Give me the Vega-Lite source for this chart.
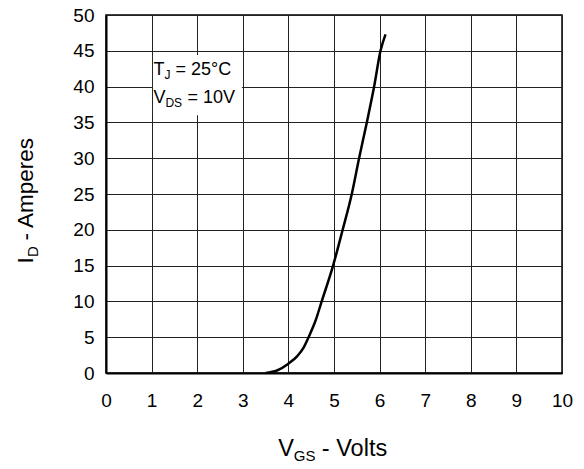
{
  "$schema": "https://vega.github.io/schema/vega-lite/v6.json",
  "width": 456,
  "height": 358,
  "autosize": {"type": "none"},
  "padding": {"left": 106, "top": 15, "right": 22, "bottom": 96},
  "background": "white",
  "config": {
    "view": {"stroke": "black", "strokeWidth": 1.5},
    "font": "Liberation Sans",
    "axis": {
      "labelFont": "Liberation Sans",
      "labelColor": "black",
      "labelFontSize": 19,
      "labelOverlap": false,
      "labelFlush": false,
      "ticks": false,
      "grid": true,
      "gridColor": "#222222",
      "gridWidth": 1,
      "gridOpacity": 1,
      "domainColor": "black",
      "domainWidth": 2,
      "title": null
    },
    "axisX": {"tickCount": 10, "labelPadding": 18},
    "axisY": {"tickCount": 10, "labelPadding": 12}
  },
  "layer": [
    {
      "data": {"values": [{}]},
      "mark": {"type": "rect", "fill": "white", "stroke": null},
      "encoding": {
        "x": {"datum": 1.03, "type": "quantitative", "scale": {"domain": [0, 10]}},
        "x2": {"datum": 2.98},
        "y": {"datum": 36.0, "type": "quantitative", "scale": {"domain": [0, 50]}},
        "y2": {"datum": 44.4}
      }
    },
    {
      "data": {"values": [
        {"vgs": 3.5, "id": 0},
        {"vgs": 3.75, "id": 0.35},
        {"vgs": 4.0, "id": 1.3},
        {"vgs": 4.2, "id": 2.4},
        {"vgs": 4.33, "id": 3.5},
        {"vgs": 4.45, "id": 5.1},
        {"vgs": 4.6, "id": 7.4},
        {"vgs": 4.73, "id": 10},
        {"vgs": 4.98, "id": 15},
        {"vgs": 5.19, "id": 20},
        {"vgs": 5.39, "id": 25},
        {"vgs": 5.55, "id": 30},
        {"vgs": 5.72, "id": 35},
        {"vgs": 5.88, "id": 40},
        {"vgs": 6.02, "id": 45},
        {"vgs": 6.13, "id": 47.3}
      ]},
      "mark": {"type": "line", "color": "black", "strokeWidth": 2.5, "interpolate": "monotone"},
      "encoding": {
        "x": {"field": "vgs", "type": "quantitative"},
        "y": {"field": "id", "type": "quantitative"}
      }
    },
    {
      "data": {"values": [{}]},
      "mark": {"type": "text", "text": "T", "fontSize": 18, "align": "left", "baseline": "alphabetic", "color": "black"},
      "encoding": {"x": {"datum": 1.04, "type": "quantitative"}, "y": {"datum": 41.6, "type": "quantitative"}}
    },
    {
      "data": {"values": [{}]},
      "mark": {"type": "text", "text": "J", "fontSize": 12, "align": "left", "baseline": "alphabetic", "dx": 11, "dy": 4, "color": "black"},
      "encoding": {"x": {"datum": 1.04, "type": "quantitative"}, "y": {"datum": 41.6, "type": "quantitative"}}
    },
    {
      "data": {"values": [{}]},
      "mark": {"type": "text", "text": "= 25°C", "fontSize": 18, "align": "left", "baseline": "alphabetic", "dx": 22, "color": "black"},
      "encoding": {"x": {"datum": 1.04, "type": "quantitative"}, "y": {"datum": 41.6, "type": "quantitative"}}
    },
    {
      "data": {"values": [{}]},
      "mark": {"type": "text", "text": "V", "fontSize": 18, "align": "left", "baseline": "alphabetic", "color": "black"},
      "encoding": {"x": {"datum": 1.04, "type": "quantitative"}, "y": {"datum": 37.7, "type": "quantitative"}}
    },
    {
      "data": {"values": [{}]},
      "mark": {"type": "text", "text": "DS", "fontSize": 12, "align": "left", "baseline": "alphabetic", "dx": 12, "dy": 4, "color": "black"},
      "encoding": {"x": {"datum": 1.04, "type": "quantitative"}, "y": {"datum": 37.7, "type": "quantitative"}}
    },
    {
      "data": {"values": [{}]},
      "mark": {"type": "text", "text": "= 10V", "fontSize": 18, "align": "left", "baseline": "alphabetic", "dx": 34, "color": "black"},
      "encoding": {"x": {"datum": 1.04, "type": "quantitative"}, "y": {"datum": 37.7, "type": "quantitative"}}
    },
    {
      "data": {"values": [{}]},
      "mark": {"type": "text", "text": "V", "fontSize": 23.5, "align": "left", "baseline": "alphabetic", "color": "black", "clip": false},
      "encoding": {"x": {"datum": 3.78, "type": "quantitative"}, "y": {"datum": -11.6, "type": "quantitative"}}
    },
    {
      "data": {"values": [{}]},
      "mark": {"type": "text", "text": "GS", "fontSize": 15, "align": "left", "baseline": "alphabetic", "dx": 15.5, "dy": 5, "color": "black", "clip": false},
      "encoding": {"x": {"datum": 3.78, "type": "quantitative"}, "y": {"datum": -11.6, "type": "quantitative"}}
    },
    {
      "data": {"values": [{}]},
      "mark": {"type": "text", "text": "- Volts", "fontSize": 23.5, "align": "left", "baseline": "alphabetic", "dx": 43.5, "color": "black", "clip": false},
      "encoding": {"x": {"datum": 3.78, "type": "quantitative"}, "y": {"datum": -11.6, "type": "quantitative"}}
    },
    {
      "data": {"values": [{}]},
      "mark": {"type": "text", "text": "I", "fontSize": 22.5, "align": "left", "baseline": "alphabetic", "angle": 270, "color": "black", "clip": false},
      "encoding": {"x": {"datum": -1.6, "type": "quantitative"}, "y": {"datum": 15.3, "type": "quantitative"}}
    },
    {
      "data": {"values": [{}]},
      "mark": {"type": "text", "text": "D", "fontSize": 15, "align": "left", "baseline": "alphabetic", "angle": 270, "dx": 6.5, "dy": 5, "color": "black", "clip": false},
      "encoding": {"x": {"datum": -1.6, "type": "quantitative"}, "y": {"datum": 15.3, "type": "quantitative"}}
    },
    {
      "data": {"values": [{}]},
      "mark": {"type": "text", "text": "- Amperes", "fontSize": 22.5, "align": "left", "baseline": "alphabetic", "angle": 270, "dx": 23, "color": "black", "clip": false},
      "encoding": {"x": {"datum": -1.6, "type": "quantitative"}, "y": {"datum": 15.3, "type": "quantitative"}}
    }
  ]
}
